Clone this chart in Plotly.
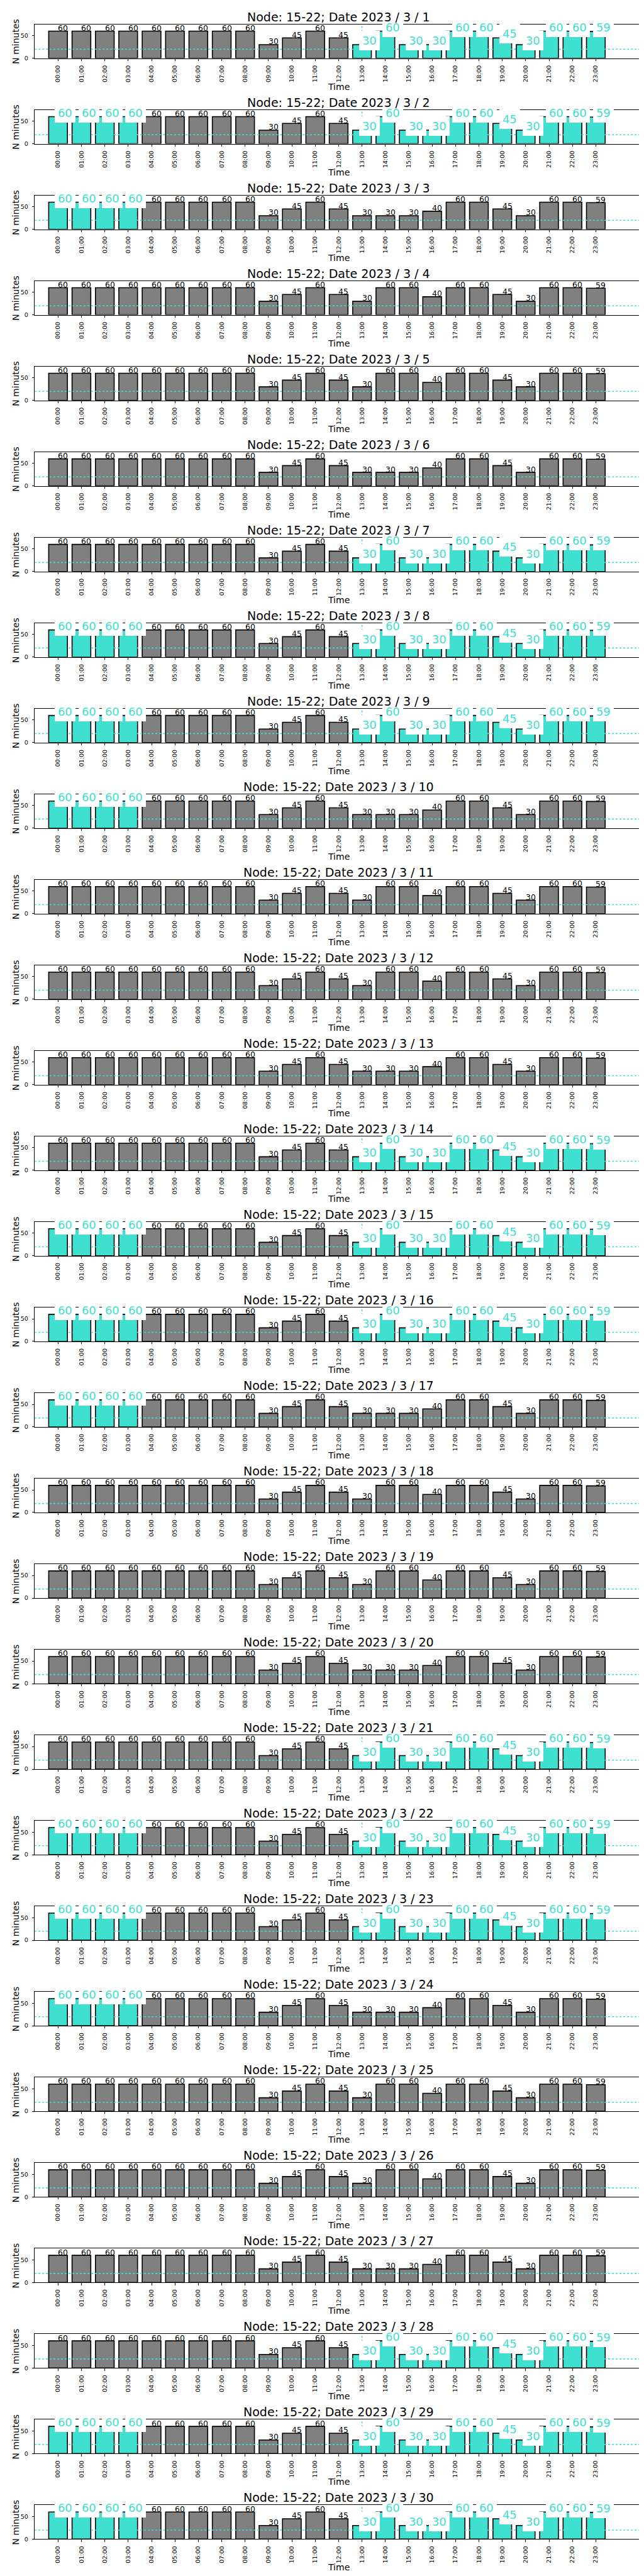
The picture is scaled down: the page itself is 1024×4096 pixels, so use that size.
import plotly.graph_objects as go

# ---------------- data ----------------
NODE = "15-22"
HOURS = ["00:00", "01:00", "02:00", "03:00", "04:00", "05:00", "06:00", "07:00",
         "08:00", "09:00", "10:00", "11:00", "12:00", "13:00", "14:00", "15:00",
         "16:00", "17:00", "18:00", "19:00", "20:00", "21:00", "22:00", "23:00"]
DATES = ["2023 / 3 / %d" % d for d in range(1, 31)]
THRESHOLD = 20

VALUES = [
    [60, 60, 60, 60, 60, 60, 60, 60, 60, 30, 45, 60, 45, 30, 60, 30, 30, 60, 60, 45, 30, 60, 60, 59],  # 1
    [60, 60, 60, 60, 60, 60, 60, 60, 60, 30, 45, 60, 45, 30, 60, 30, 30, 60, 60, 45, 30, 60, 60, 59],  # 2
    [60, 60, 60, 60, 60, 60, 60, 60, 60, 30, 45, 60, 45, 30, 30, 30, 40, 60, 60, 45, 30, 60, 60, 59],  # 3
    [60, 60, 60, 60, 60, 60, 60, 60, 60, 30, 45, 60, 45, 30, 60, 60, 40, 60, 60, 45, 30, 60, 60, 59],  # 4
    [60, 60, 60, 60, 60, 60, 60, 60, 60, 30, 45, 60, 45, 30, 60, 60, 40, 60, 60, 45, 30, 60, 60, 59],  # 5
    [60, 60, 60, 60, 60, 60, 60, 60, 60, 30, 45, 60, 45, 30, 30, 30, 40, 60, 60, 45, 30, 60, 60, 59],  # 6
    [60, 60, 60, 60, 60, 60, 60, 60, 60, 30, 45, 60, 45, 30, 60, 30, 30, 60, 60, 45, 30, 60, 60, 59],  # 7
    [60, 60, 60, 60, 60, 60, 60, 60, 60, 30, 45, 60, 45, 30, 60, 30, 30, 60, 60, 45, 30, 60, 60, 59],  # 8
    [60, 60, 60, 60, 60, 60, 60, 60, 60, 30, 45, 60, 45, 30, 60, 30, 30, 60, 60, 45, 30, 60, 60, 59],  # 9
    [60, 60, 60, 60, 60, 60, 60, 60, 60, 30, 45, 60, 45, 30, 30, 30, 40, 60, 60, 45, 30, 60, 60, 59],  # 10
    [60, 60, 60, 60, 60, 60, 60, 60, 60, 30, 45, 60, 45, 30, 60, 60, 40, 60, 60, 45, 30, 60, 60, 59],  # 11
    [60, 60, 60, 60, 60, 60, 60, 60, 60, 30, 45, 60, 45, 30, 60, 60, 40, 60, 60, 45, 30, 60, 60, 59],  # 12
    [60, 60, 60, 60, 60, 60, 60, 60, 60, 30, 45, 60, 45, 30, 30, 30, 40, 60, 60, 45, 30, 60, 60, 59],  # 13
    [60, 60, 60, 60, 60, 60, 60, 60, 60, 30, 45, 60, 45, 30, 60, 30, 30, 60, 60, 45, 30, 60, 60, 59],  # 14
    [60, 60, 60, 60, 60, 60, 60, 60, 60, 30, 45, 60, 45, 30, 60, 30, 30, 60, 60, 45, 30, 60, 60, 59],  # 15
    [60, 60, 60, 60, 60, 60, 60, 60, 60, 30, 45, 60, 45, 30, 60, 30, 30, 60, 60, 45, 30, 60, 60, 59],  # 16
    [60, 60, 60, 60, 60, 60, 60, 60, 60, 30, 45, 60, 45, 30, 30, 30, 40, 60, 60, 45, 30, 60, 60, 59],  # 17
    [60, 60, 60, 60, 60, 60, 60, 60, 60, 30, 45, 60, 45, 30, 60, 60, 40, 60, 60, 45, 30, 60, 60, 59],  # 18
    [60, 60, 60, 60, 60, 60, 60, 60, 60, 30, 45, 60, 45, 30, 60, 60, 40, 60, 60, 45, 30, 60, 60, 59],  # 19
    [60, 60, 60, 60, 60, 60, 60, 60, 60, 30, 45, 60, 45, 30, 30, 30, 40, 60, 60, 45, 30, 60, 60, 59],  # 20
    [60, 60, 60, 60, 60, 60, 60, 60, 60, 30, 45, 60, 45, 30, 60, 30, 30, 60, 60, 45, 30, 60, 60, 59],  # 21
    [60, 60, 60, 60, 60, 60, 60, 60, 60, 30, 45, 60, 45, 30, 60, 30, 30, 60, 60, 45, 30, 60, 60, 59],  # 22
    [60, 60, 60, 60, 60, 60, 60, 60, 60, 30, 45, 60, 45, 30, 60, 30, 30, 60, 60, 45, 30, 60, 60, 59],  # 23
    [60, 60, 60, 60, 60, 60, 60, 60, 60, 30, 45, 60, 45, 30, 30, 30, 40, 60, 60, 45, 30, 60, 60, 59],  # 24
    [60, 60, 60, 60, 60, 60, 60, 60, 60, 30, 45, 60, 45, 30, 60, 60, 40, 60, 60, 45, 30, 60, 60, 59],  # 25
    [60, 60, 60, 60, 60, 60, 60, 60, 60, 30, 45, 60, 45, 30, 60, 60, 40, 60, 60, 45, 30, 60, 60, 59],  # 26
    [60, 60, 60, 60, 60, 60, 60, 60, 60, 30, 45, 60, 45, 30, 30, 30, 40, 60, 60, 45, 30, 60, 60, 59],  # 27
    [60, 60, 60, 60, 60, 60, 60, 60, 60, 30, 45, 60, 45, 30, 60, 30, 30, 60, 60, 45, 30, 60, 60, 59],  # 28
    [60, 60, 60, 60, 60, 60, 60, 60, 60, 30, 45, 60, 45, 30, 60, 30, 30, 60, 60, 45, 30, 60, 60, 59],  # 29
    [60, 60, 60, 60, 60, 60, 60, 60, 60, 30, 45, 60, 45, 30, 60, 30, 30, 60, 60, 45, 30, 60, 60, 59],  # 30
]

# highlighted (turquoise) periods per day
AM_HOURS = ["00:00", "01:00", "02:00", "03:00"]
PM_HOURS = ["13:00", "14:00", "15:00", "16:00", "17:00", "18:00", "19:00",
            "20:00", "21:00", "22:00", "23:00"]
AM_FLAG = [0, 1, 1, 0, 0, 0, 0, 1, 1, 1, 0, 0, 0, 0, 1, 1, 1, 0, 0, 0, 0, 1, 1, 1, 0, 0, 0, 0, 1, 1]
PM_FLAG = [1, 1, 0, 0, 0, 0, 1, 1, 1, 0, 0, 0, 0, 1, 1, 1, 0, 0, 0, 0, 1, 1, 1, 0, 0, 0, 0, 1, 1, 1]

# ---------------- style ----------------
S = 1024 / 1500.0
FIG_W, FIG_H = 1024, 4096
FONT = "DejaVu Sans"
GRAY = "#808080"
CYAN = "#40E0D0"
AX_L, AX_R = 69 * S / FIG_W, 1485 * S / FIG_W
TOP0, BOT0, PERIOD = 45.0, 124.0, 199.5

fig = go.Figure()
annotations = []
shapes = []
layout = {}

for k in range(len(VALUES)):
    sfx = "" if k == 0 else str(k + 1)
    xa, ya = "x" + sfx, "y" + sfx
    top = (TOP0 + PERIOD * k) * S / FIG_H
    bot = (BOT0 + PERIOD * k) * S / FIG_H

    layout["xaxis" + sfx] = dict(
        domain=[AX_L, AX_R], anchor=ya, type="category", range=[-1, 25],
        categoryorder="array", categoryarray=HOURS,
        tickangle=-90, ticks="outside", ticklen=3.3, tickwidth=0.8, tickcolor="black",
        ticklabelstandoff=3,
        showline=True, mirror=True, linecolor="black", linewidth=1,
        showgrid=False, zeroline=False,
        tickfont=dict(family=FONT, size=9.5, color="black"), fixedrange=True,
    )
    layout["yaxis" + sfx] = dict(
        domain=[1 - bot, 1 - top], anchor=xa, range=[0, 75],
        tickmode="array", tickvals=[0, 50], ticktext=["0", "50"],
        ticks="outside", ticklen=3.3, tickwidth=0.8, tickcolor="black",
        ticklabelstandoff=4,
        showline=True, mirror=True, linecolor="black", linewidth=1,
        showgrid=False, zeroline=False,
        tickfont=dict(family=FONT, size=9.5, color="black"), fixedrange=True,
    )

    vals = VALUES[k]
    hl = [(AM_FLAG[k] and h in AM_HOURS) or (PM_FLAG[k] and h in PM_HOURS) for h in HOURS]
    colors = [CYAN if f else GRAY for f in hl]

    fig.add_trace(go.Bar(
        x=HOURS, y=vals, width=0.8,
        marker=dict(color=colors, line=dict(color="black", width=1.6)),
        xaxis=xa, yaxis=ya, showlegend=False, hoverinfo="skip",
    ))

    # dotted threshold line
    shapes.append(dict(
        type="line", xref=xa + " domain", x0=0, x1=1, yref=ya, y0=THRESHOLD, y1=THRESHOLD,
        line=dict(color=CYAN, width=1.6, dash="dot"), layer="above",
    ))
    if PM_FLAG[k]:
        shapes.append(dict(
            type="line", xref=xa, x0=PM_HOURS[0], x1=PM_HOURS[0], yref=ya + " domain", y0=0, y1=1,
            line=dict(color=CYAN, width=1.6, dash="dot"), layer="below",
        ))

    # value labels
    for h, v, f in zip(HOURS, vals, hl):
        if f:
            annotations.append(dict(
                x=h, y=v, xref=xa, yref=ya, text=str(v), showarrow=False,
                xanchor="left", yanchor="bottom",
                font=dict(family=FONT, size=18, color=CYAN),
                bgcolor="white", borderpad=4.9, borderwidth=0,
                xshift=-4.9, yshift=-9.1,
            ))
        else:
            annotations.append(dict(
                x=h, y=v, xref=xa, yref=ya, text=str(v), showarrow=False,
                xanchor="left", yanchor="bottom",
                font=dict(family=FONT, size=12.4, color="black"),
                borderpad=0, borderwidth=0, yshift=-2.4,
            ))

    # title
    annotations.append(dict(
        xref=xa + " domain", yref=ya + " domain", x=0.5, y=1,
        text="Node: %s; Date %s" % (NODE, DATES[k]), showarrow=False,
        xanchor="center", yanchor="bottom", yshift=1,
        borderpad=0, borderwidth=0,
        font=dict(family=FONT, size=19, color="black"),
    ))
    # axis labels
    annotations.append(dict(
        xref=xa + " domain", yref=ya + " domain", x=0, y=0.5,
        text="N minutes", showarrow=False, textangle=-90,
        xanchor="center", yanchor="middle", xshift=-30,
        font=dict(family=FONT, size=14, color="black"),
    ))
    annotations.append(dict(
        xref=xa + " domain", yref=ya + " domain", x=0.5, y=0,
        text="Time", showarrow=False,
        xanchor="center", yanchor="middle", yshift=-45,
        font=dict(family=FONT, size=14, color="black"),
    ))

fig.update_layout(
    width=FIG_W, height=FIG_H, autosize=False,
    margin=dict(l=0, r=0, t=0, b=0),
    paper_bgcolor="white", plot_bgcolor="white",
    showlegend=False,
    annotations=annotations, shapes=shapes,
    **layout,
)

fig.write_html("out.html")
